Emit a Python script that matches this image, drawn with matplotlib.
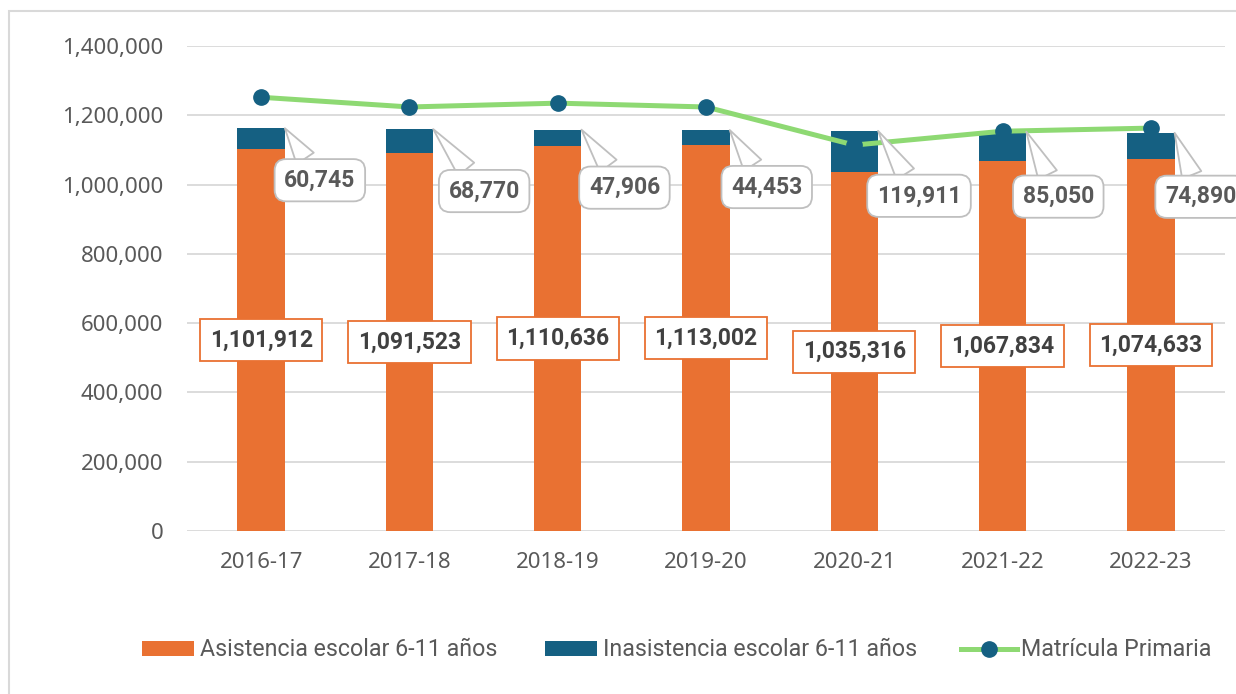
import matplotlib
matplotlib.use("Agg")
import matplotlib.pyplot as plt
from matplotlib.patches import Patch, Rectangle
from matplotlib.lines import Line2D
from matplotlib.ticker import FuncFormatter

# --------------------------------------------------------------------------
# Data
# --------------------------------------------------------------------------
years = ["2016-17", "2017-18", "2018-19", "2019-20", "2020-21", "2021-22", "2022-23"]
asistencia = [1101912, 1091523, 1110636, 1113002, 1035316, 1067834, 1074633]
inasistencia = [60745, 68770, 47906, 44453, 119911, 85050, 74890]
matricula = [1252000, 1224000, 1235000, 1224000, 1114000, 1154000, 1163000]

# --------------------------------------------------------------------------
# Style
# --------------------------------------------------------------------------
ORANGE = "#e97132"
BLUE = "#156082"
GREEN = "#8ed973"
GRID = "#d9d9d9"
TICK_INK = "#595959"
LABEL_INK = "#404040"
CALLOUT_INK = "#595959"
CALLOUT_EDGE = "#bfbfbf"

TICK_FONT = "Noto Sans"
LEGEND_FONT = "Roboto"
LABEL_FONT = "Roboto"

# callout offsets (pixels) from the top-right corner of each bar
callout_offsets = [(35, -52), (51, -62), (43, -58), (37, -57), (41, -65), (32, -65), (26, -64)]

BAR_W = 0.32

fig = plt.figure(figsize=(12.36, 6.94), dpi=100)
ax = fig.add_axes([187 / 1236, 1 - 531 / 694, (1225 - 187) / 1236, (531 - 46) / 694])

x = list(range(len(years)))
ax.bar(x, asistencia, width=BAR_W, color=ORANGE, zorder=2)
ax.bar(x, inasistencia, width=BAR_W, bottom=asistencia, color=BLUE, zorder=2)
ax.plot(x, matricula, color=GREEN, lw=3.6, marker="o", ms=11,
        mfc=BLUE, mec=BLUE, zorder=3, solid_capstyle="butt")

ax.set_xlim(-0.5, len(years) - 0.5)
ax.set_ylim(0, 1400000)
ax.set_yticks(range(0, 1400001, 200000))
ax.yaxis.set_major_formatter(FuncFormatter(lambda v, _: f"{int(v):,}"))
ax.set_xticks(x)
ax.set_xticklabels(years)
ax.tick_params(length=0, colors=TICK_INK, labelsize=16)
ax.tick_params(axis="y", pad=17)
ax.tick_params(axis="x", pad=15)
for lab in ax.get_xticklabels() + ax.get_yticklabels():
    lab.set_fontfamily(TICK_FONT)
for s in ax.spines.values():
    s.set_visible(False)
ax.grid(axis="y", color=GRID, lw=1.3, zorder=0)
ax.set_axisbelow(True)

# centred labels on the attendance bars
for xi, a in zip(x, asistencia):
    ax.text(xi, a / 2, f"{a:,}", ha="center", va="center", fontsize=16.5,
            fontweight="bold", family=LABEL_FONT, color=LABEL_INK, zorder=5,
            bbox=dict(boxstyle="square,pad=0.42", fc="white", ec=ORANGE, lw=1.3))

# callouts for non-attendance
for xi, a, n, off in zip(x, asistencia, inasistencia, callout_offsets):
    ax.annotate(f"{n:,}", xy=(xi + BAR_W / 2, a + n), xytext=off,
                textcoords="offset pixels", ha="center", va="center",
                fontsize=16.5, fontweight="bold", family=LABEL_FONT,
                color=CALLOUT_INK, zorder=6, annotation_clip=False,
                bbox=dict(boxstyle="round,pad=0.42,rounding_size=0.5",
                          fc="white", ec=CALLOUT_EDGE, lw=1.3),
                arrowprops=dict(arrowstyle="wedge,tail_width=0.9,shrink_factor=0.5",
                                fc="white", ec=CALLOUT_EDGE, lw=1.3,
                                shrinkA=0, shrinkB=0))

# legend: three entries placed like the spreadsheet legend
legend_items = [
    (Patch(facecolor=ORANGE, edgecolor="none"), "Asistencia escolar 6-11 años", 142, 2.23, 0.26),
    (Patch(facecolor=BLUE, edgecolor="none"), "Inasistencia escolar 6-11 años", 545, 2.23, 0.26),
    (Line2D([], [], color=GREEN, lw=3.6, marker="o", ms=11, mfc=BLUE, mec=BLUE),
     "Matrícula Primaria", 961, 2.4, 0.17),
]
for handle, label, left_px, hlen, hpad in legend_items:
    fig.legend([handle], [label], loc="center left",
               bbox_to_anchor=(left_px / 1236, 1 - 650 / 694),
               frameon=False, borderpad=0, borderaxespad=0,
               handlelength=hlen, handleheight=0.64, handletextpad=hpad,
               prop={"family": LEGEND_FONT, "size": 16.75}, labelcolor=TICK_INK)

# outer frame of the chart area, running off the right and bottom edges
fig.patches.append(Rectangle((9 / 1236, -0.05), 1.2, 1 - 11 / 694 + 0.05,
                             transform=fig.transFigure, fill=False,
                             ec=GRID, lw=1.5))

fig.savefig("out.png", dpi=100)
